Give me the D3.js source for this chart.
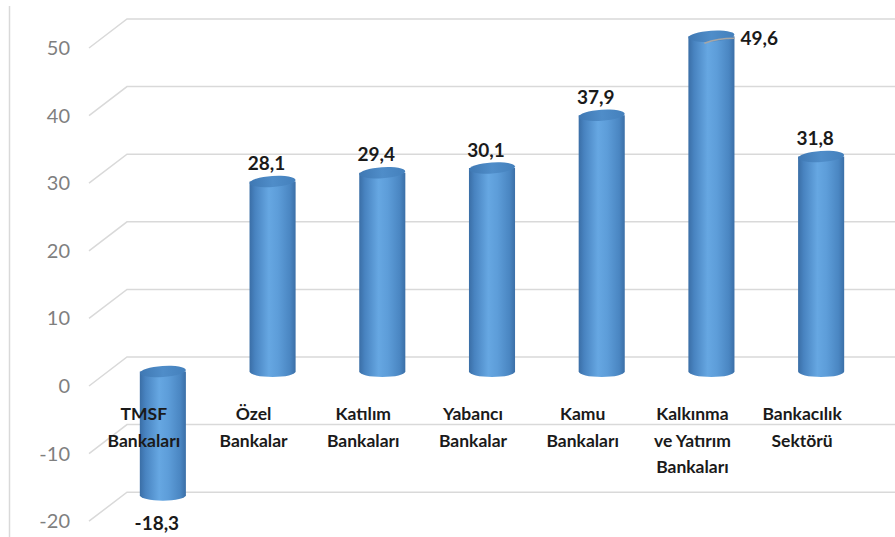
<!DOCTYPE html>
<html>
<head>
<meta charset="utf-8">
<script src="https://cdn.jsdelivr.net/npm/d3@7"></script>
<style>
  body { margin: 0; background: #fff; }
  text { font-family: Lato, "Open Sans", sans-serif; }
</style>
</head>
<body>
<svg id="svg" width="895" height="537"></svg>
<script>
    // veriler
    var categories = ['TMSF\nBankaları', 'Özel\nBankalar', 'Katılım\nBankaları', 'Yabancı\nBankalar',
                      'Kamu\nBankaları', 'Kalkınma\nve Yatırım\nBankaları', 'Bankacılık\nSektörü'];
    var values = [-18.3, 28.1, 29.4, 30.1, 37.9, 49.6, 31.8];
    var yTicks = [-20, -10, 0, 10, 20, 30, 40, 50];

    var svg = d3.select("#svg"),
        width = +svg.attr("width"),
        height = +svg.attr("height");

    // 3B derinlik (yarısı)
    var dx = 19, dy = 14.5;

    var x = d3.scaleBand()
        .domain(categories)
        .range([108, 876])
        .paddingInner(0.58)
        .paddingOuter(0.29);
    var y = d3.scaleLinear()
        .domain([-20, 50])
        .range([506.7, 33.5]);

    var fmt = function (v) { return String(v).replace('.', ','); };

    var defs = svg.append("defs");
    var grad = defs.append("linearGradient").attr("id", "body").attr("x1", 0).attr("x2", 1).attr("y1", 0).attr("y2", 0);
    [[0, "#3a6ea6"], [0.12, "#4883c0"], [0.42, "#66a7e2"], [0.62, "#5d9dd9"], [0.88, "#4a86c2"], [1, "#3b6fa7"]]
        .forEach(function (s) { grad.append("stop").attr("offset", s[0]).attr("stop-color", s[1]); });
    var topGrad = defs.append("linearGradient").attr("id", "top").attr("x1", 0).attr("x2", 1).attr("y1", 0).attr("y2", 0);
    [[0, "#3f78b3"], [0.5, "#4f8dc9"], [1, "#4480bc"]]
        .forEach(function (s) { topGrad.append("stop").attr("offset", s[0]).attr("stop-color", s[1]); });

    // sol çizgi
    svg.append("line")
        .attr("x1", 9.5).attr("x2", 9.5).attr("y1", 6).attr("y2", height)
        .attr("stroke", "#d9d9d9").attr("stroke-width", 1.5);

    // ızgara
    var x0 = x.range()[0];
    svg.append("g").selectAll("path")
        .data(yTicks)
        .enter().append("path")
        .attr("fill", "none")
        .attr("stroke", "#d9d9d9")
        .attr("stroke-width", 1.5)
        .attr("d", function (t) {
            return "M" + (x0 - dx) + "," + (y(t) + dy)
                + "L" + (x0 + dx) + "," + (y(t) - dy)
                + "L" + width + "," + (y(t) - dy);
        });

    svg.append("g").selectAll("text")
        .data(yTicks)
        .enter().append("text")
        .attr("x", 70)
        .attr("y", function (t) { return y(t) + dy; })
        .attr("dy", "0.35em")
        .attr("text-anchor", "end")
        .attr("fill", "#7f7f7f")
        .style("font-size", "20px")
        .text(function (t) { return t; });

    // silindirler
    var bw = x.bandwidth(), rx = bw / 2, ry = 5.5;
    var bars = svg.append("g").selectAll("g")
        .data(values)
        .enter().append("g");
    bars.append("path")
        .attr("fill", "url(#body)")
        .attr("d", function (v, i) {
            var l = x(categories[i]), r = l + bw;
            var t = y(Math.max(v, 0)), b = y(Math.min(v, 0));
            return "M" + l + "," + t + "L" + l + "," + b
                + "A" + rx + "," + ry + " 0 0 0 " + r + "," + b
                + "L" + r + "," + t + "Z";
        });
    bars.append("ellipse")
        .attr("cx", function (v, i) { return x(categories[i]) + rx; })
        .attr("cy", function (v) { return y(Math.max(v, 0)); })
        .attr("rx", rx)
        .attr("ry", ry)
        .attr("fill", "url(#top)")
        .attr("transform", function (v, i) {
            return "rotate(-4," + (x(categories[i]) + rx) + "," + y(Math.max(v, 0)) + ")";
        });

    // kategori etiketleri
    var cat = svg.append("g").selectAll("text")
        .data(categories)
        .enter().append("text")
        .attr("text-anchor", "middle")
        .attr("fill", "#1a1a1a")
        .style("font-size", "17.5px")
        .style("font-weight", "bold");
    cat.each(function (c) {
        var cx = x(c) + rx - dx;
        d3.select(this).selectAll("tspan")
            .data(c.split("\n"))
            .enter().append("tspan")
            .attr("x", cx)
            .attr("y", function (s, j) { return 420 + j * 26.5; })
            .text(function (s) { return s; });
    });

    // değer etiketleri
    var maxV = d3.max(values);
    svg.append("g").selectAll("text")
        .data(values)
        .enter().append("text")
        .attr("fill", "#1a1a1a")
        .style("font-size", "19px")
        .style("font-weight", "bold")
        .attr("text-anchor", function (v) { return v === maxV ? "start" : "middle"; })
        .attr("x", function (v, i) {
            var c = x(categories[i]) + rx;
            return v === maxV ? c + rx + 6 : c - 6;
        })
        .attr("y", function (v) {
            if (v < 0) return y(v) + 35;
            if (v === maxV) return y(v) + 9;
            return y(v) - 11.5;
        })
        .text(fmt);

    // en yüksek değer için kılavuz çizgi
    values.forEach(function (v, i) {
        if (v !== maxV) return;
        var c = x(categories[i]) + rx;
        svg.append("path")
            .attr("fill", "none")
            .attr("stroke", "#a6a6a6")
            .attr("stroke-width", 1.5)
            .attr("d", "M" + (c - 7) + "," + (y(v) + 7)
                + "Q" + (c + 6) + "," + (y(v) + 2) + " " + (c + rx) + "," + (y(v) + 2));
    });
</script>
</body>
</html>
